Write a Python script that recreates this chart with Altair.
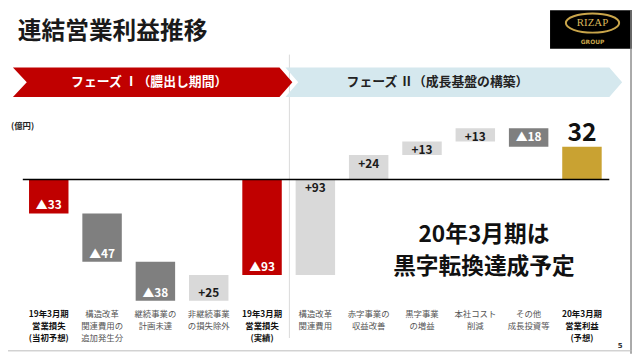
import altair as alt
import pandas as pd

# ---------------- data ----------------
categories = [
    "19年3月期\n営業損失\n(当初予想)",
    "構造改革\n関連費用の\n追加発生分",
    "継続事業の\n計画未達",
    "非継続事業\nの損失除外",
    "19年3月期\n営業損失\n(実績)",
    "構造改革\n関連費用",
    "赤字事業の\n収益改善",
    "黒字事業\nの増益",
    "本社コスト\n削減",
    "その他\n成長投資等",
    "20年3月期\n営業利益\n(予想)",
]
values = [-33, -47, -38, 25, -93, 93, 24, 13, 13, -18, 32]
kinds = ["total", "delta", "delta", "delta", "total",
         "delta", "delta", "delta", "delta", "delta", "total"]
phases = [1, 1, 1, 1, 1, 2, 2, 2, 2, 2, 2]

title_text = "連結営業利益推移"
unit_text = "(億円)"
phase_texts = ["フェーズ Ⅰ（膿出し期間）", "フェーズ Ⅱ（成長基盤の構築）"]
message_lines = ["20年3月期は", "黒字転換達成予定"]
logo_texts = ["RIZAP", "GROUP"]
page_number = "5"

# ---------------- build table ----------------
rows = []
running = 0
for i, (c, v, k, p) in enumerate(zip(categories, values, kinds, phases)):
    if k == "total":
        start, end = 0, v
        running = v
        grp = "loss" if v < 0 else "profit"
    else:
        start, end = running, running + v
        running += v
        grp = "down" if v < 0 else "up"
    if k == "total" and v > 0:
        lbl = str(v)
    elif v < 0:
        lbl = "▲" + str(-v)
    else:
        lbl = "+" + str(v)
    tcolor = "#ffffff" if grp in ("loss", "down") else "#1a1a1a"
    rows.append(dict(i=i, cat=c, start=start, end=end, low=min(start, end),
                     high=max(start, end), grp=grp, lbl=lbl, tcolor=tcolor,
                     phase=p, total=(k == "total")))
df = pd.DataFrame(rows)

JP = "Noto Sans CJK JP"
W, H = 632, 348

xs = alt.Scale(range=[21.3, 601.3], paddingInner=0.26, paddingOuter=0)
ys = alt.Scale(domain=[-169.7, 164.9], nice=False, zero=False)
X = alt.X("i:O", scale=xs, axis=None)

base = alt.Chart(df)

bars = base.mark_bar().encode(
    x=X,
    y=alt.Y("start:Q", scale=ys, axis=None),
    y2="end:Q",
    color=alt.Color("grp:N", legend=None,
                    scale=alt.Scale(domain=["loss", "down", "up", "profit"],
                                    range=["#C00000", "#7F7F7F", "#D9D9D9", "#C9A232"])),
)

lab1 = base.transform_filter("datum.phase == 1").mark_text(
    dy=-8, fontSize=12, fontWeight="bold", font=JP, baseline="middle"
).encode(x=X, y=alt.Y("low:Q", scale=ys, axis=None), text="lbl:N",
         color=alt.Color("tcolor:N", scale=None))

lab2 = base.transform_filter("datum.phase == 2 && !datum.total").mark_text(
    dy=9, fontSize=12, fontWeight="bold", font=JP, baseline="middle"
).encode(x=X, y=alt.Y("high:Q", scale=ys, axis=None), text="lbl:N",
         color=alt.Color("tcolor:N", scale=None))

lab3 = base.transform_filter("datum.grp == 'profit'").mark_text(
    dy=-14, fontSize=25, fontWeight="bold", font=JP, baseline="middle", color="#111111"
).encode(x=X, y=alt.Y("high:Q", scale=ys, axis=None), text="lbl:N")

cat_bold = base.transform_filter("datum.total").mark_text(
    lineBreak="\n", baseline="top", fontSize=8.5, fontWeight="bold", lineHeight=12,
    font=JP, color="#111111"
).encode(x=X, y=alt.value(304), text="cat:N")

cat_norm = base.transform_filter("!datum.total").mark_text(
    lineBreak="\n", baseline="top", fontSize=8.5, lineHeight=12,
    font=JP, color="#555555"
).encode(x=X, y=alt.value(304), text="cat:N")

zero = alt.Chart(pd.DataFrame({"z": [0]})).mark_rule(color="#000000", strokeWidth=1.5).encode(
    y=alt.Y("z:Q", scale=ys, axis=None), x=alt.value(15), x2=alt.value(609))

one = pd.DataFrame({"k": [0]})

# phase banners (chevrons)
red_path = "M-1,-0.106 L0.908,-0.106 L1,0 L0.908,0.106 L-1,0.106 L-0.901,0 Z"
blue_path = "M-1,-0.088 L0.924,-0.088 L1,0 L0.924,0.088 L-1,0.088 L-0.924,0 Z"
blue_banner = alt.Chart(one).mark_point(
    shape=blue_path, filled=True, fill="#D5E8EE", strokeWidth=0, opacity=1, size=(2 * 170.5) ** 2
).encode(x=alt.value(451.5), y=alt.value(73))
red_banner = alt.Chart(one).mark_point(
    shape=red_path, filled=True, fill="#C00000", stroke="#ffffff", strokeWidth=0.02, opacity=1,
    size=(2 * 141.5) ** 2
).encode(x=alt.value(146.5), y=alt.value(73))

phase1_txt = alt.Chart(pd.DataFrame({"t": [phase_texts[0]]})).mark_text(
    font=JP, fontSize=13, fontWeight="bold", color="#ffffff", baseline="middle"
).encode(x=alt.value(143), y=alt.value(73), text="t:N")
phase2_txt = alt.Chart(pd.DataFrame({"t": [phase_texts[1]]})).mark_text(
    font=JP, fontSize=13, fontWeight="bold", color="#222222", baseline="middle"
).encode(x=alt.value(435), y=alt.value(73), text="t:N")

separator = alt.Chart(one).mark_rule(color="#D9D9D9", strokeWidth=1).encode(
    x=alt.value(285), y=alt.value(45), y2=alt.value(332))

title = alt.Chart(pd.DataFrame({"t": [title_text]})).mark_text(
    font=JP, fontSize=24, fontWeight="bold", color="#1a1a1a", align="left", baseline="middle"
).encode(x=alt.value(10), y=alt.value(22), text="t:N")

unit = alt.Chart(pd.DataFrame({"t": [unit_text]})).mark_text(
    font=JP, fontSize=8.5, fontWeight="bold", color="#222222", align="left", baseline="middle"
).encode(x=alt.value(3), y=alt.value(117), text="t:N")

msg1 = alt.Chart(pd.DataFrame({"t": [message_lines[0]]})).mark_text(
    font=JP, fontSize=23, fontWeight="bold", color="#111111", baseline="middle"
).encode(x=alt.value(482), y=alt.value(228), text="t:N")
msg2 = alt.Chart(pd.DataFrame({"t": [message_lines[1]]})).mark_text(
    font=JP, fontSize=23, fontWeight="bold", color="#111111", baseline="middle"
).encode(x=alt.value(482), y=alt.value(260), text="t:N")

# logo
logo_box = alt.Chart(one).mark_rect(color="#000000").encode(
    x=alt.value(549), x2=alt.value(632), y=alt.value(0), y2=alt.value(39))
ellipse_path = "M-1,0 A1,0.36 0 1,1 1,0 A1,0.36 0 1,1 -1,0 Z"
logo_ring = alt.Chart(one).mark_point(
    shape=ellipse_path, filled=False, stroke="#C9A54A", strokeWidth=2, opacity=1, size=54 ** 2
).encode(x=alt.value(592), y=alt.value(13))
logo_t1 = alt.Chart(pd.DataFrame({"t": [logo_texts[0]]})).mark_text(
    font="Liberation Serif", fontSize=11, color="#D9B65A", baseline="middle"
).encode(x=alt.value(592), y=alt.value(13), text="t:N")
logo_t2 = alt.Chart(pd.DataFrame({"t": [logo_texts[1]]})).mark_text(
    font="DejaVu Sans", fontSize=6, fontWeight="bold", color="#C9A54A", baseline="middle"
).encode(x=alt.value(592), y=alt.value(32), text="t:N")

# slide frame
right_border = alt.Chart(one).mark_rule(color="#8C8C8C", strokeWidth=1.5).encode(
    x=alt.value(631), y=alt.value(0), y2=alt.value(348))
bottom_border = alt.Chart(one).mark_rule(color="#BBBBBB", strokeWidth=1).encode(
    y=alt.value(345), x=alt.value(0), x2=alt.value(632))
pnum = alt.Chart(pd.DataFrame({"t": [page_number]})).mark_text(
    font="DejaVu Sans", fontSize=7, fontWeight="bold", color="#333333", baseline="middle"
).encode(x=alt.value(620), y=alt.value(340), text="t:N")

chart = alt.layer(
    separator, blue_banner, red_banner, phase1_txt, phase2_txt,
    bars, zero, lab1, lab2, lab3, cat_bold, cat_norm,
    title, unit, msg1, msg2,
    logo_box, logo_ring, logo_t1, logo_t2,
    right_border, bottom_border, pnum,
).properties(
    width=W, height=H, autosize="none", padding=0, background="#ffffff"
).configure_view(stroke=None)

chart.save("out.html", embed_options={"renderer": "svg", "actions": False})
